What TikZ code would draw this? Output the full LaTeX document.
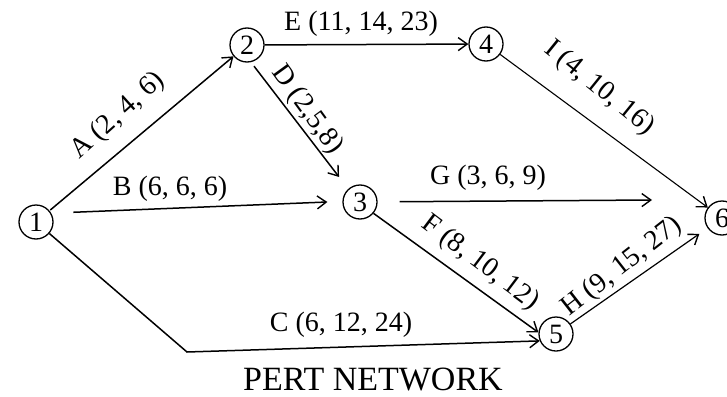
\documentclass[tikz,border=0pt]{standalone}
\usepackage{fontspec}
\setmainfont{Liberation Serif}
\usetikzlibrary{arrows.meta}
\begin{document}
\begin{tikzpicture}[x=1pt,y=-1pt,
  ev/.style={circle,draw,line width=1.3pt,minimum size=34pt,inner sep=0pt,font=\fontsize{28}{28}\selectfont},
  act/.style={line width=1.5pt,-{Straight Barb[length=9pt,width=13pt,line width=1.4pt]}},
  lbl/.style={inner sep=0pt,font=\fontsize{28}{28}\selectfont}]
\clip (0,0) rectangle (727,396);
% events
\node[ev] (n1) at (36,222) {1};
\node[ev] (n2) at (247,45) {2};
\node[ev] (n4) at (486,44) {4};
\node[ev] (n3) at (360,202) {3};
\node[ev] (n5) at (556,334) {5};
\node[ev] (n6) at (722,218) {6};
\coordinate (cb) at (187,352);
\coordinate (ge) at (652,200);
% activities
\draw[act, shorten <=1pt] (n1) -- (n2);
\draw[act, shorten <=22pt, shorten >=15pt] (n1.30) -- (n3.178);
\draw[act] (n1) -- (cb) -- (n5.203);
\draw[act, shorten <=5pt, shorten >=15pt] (n2.-77) -- (n3.132);
\draw[act] (n2) -- (n4);
\draw[act, line width=1.1pt] (n4) -- (n6);
\draw[act, shorten <=22pt] (n3) -- (ge);
\draw[act] (n3.-40) -- (n5.175);
\draw[act, line width=1.2pt, shorten >=10pt] (n5) -- (n6);
% labels
\node[lbl, rotate=42] (la) at (118,116) {A (2, 4, 6)};
\node[lbl] (lb) at (170,189) {B (6, 6, 6)};
\node[lbl] (lc) at (341,325) {C (6, 12, 24)};
\node[lbl, rotate=-54] (ld) at (307,110) {D (2,5,8)};
\node[lbl] (le) at (361,24) {E (11, 14, 23)};
\node[lbl, rotate=-37] (lf) at (480,263) {F (8, 10, 12)};
\node[lbl] (lg) at (488,178) {G (3, 6, 9)};
\node[lbl, rotate=38] (lh) at (622,267) {H (9, 15, 27)};
\node[lbl, rotate=-39] (li) at (599,88) {I (4, 10, 16)};
\node[inner sep=0pt, font=\fontsize{34}{34}\selectfont] (title) at (373,379) {PERT NETWORK};
\end{tikzpicture}
\end{document}
